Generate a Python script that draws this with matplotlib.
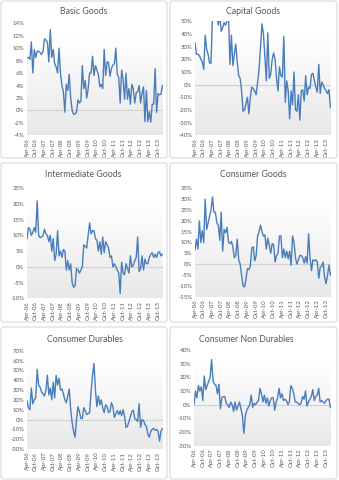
import numpy as np
import matplotlib
matplotlib.use("Agg")
import matplotlib.pyplot as plt
from matplotlib.patches import FancyBboxPatch

# ---------------------------------------------
# datos (% variación anual, Apr-06 .. Jan-14)
# ---------------------------------------------
tick_labels = ["Apr-06", "Oct-06", "Apr-07", "Oct-07", "Apr-08", "Oct-08", "Apr-09", "Oct-09",
               "Apr-10", "Oct-10", "Apr-11", "Oct-11", "Apr-12", "Oct-12", "Apr-13", "Oct-13"]

basic_goods = [8.5, 8.5, 8.2, 11, 6, 9.8,
               8.5, 9.5, 9.5, 9.3, 9.0, 9.5,
               11.5, 11.3, 11, 7.8, 13, 8.5,
               9.8, 7.5, 7, 6, 10, 6,
               4, 3, -0.3, 4.2, 3.2, 5.8,
               2, 0, -0.6, -0.6, -0.3, 1.7,
               1.2, 1.5, 7.2, 3.5, 4.8, 2,
               3.5, 6, 6, 8.7, 5.6, 7.2,
               6.5, 5.8, 3.8, 4.2, 3.5, 9.8,
               5.6, 7.8, 7.7, 5.5, 6.8, 7.3,
               7.5, 10, 5.8, 5.3, 1.2, 6.5,
               5, 1.8, 6, 1.8, 3.5, 1,
               4.2, 3.5, 1.2, 2.8, 3, 4,
               1.2, 2.8, 3.8, -1.8, 3.2, -1.8,
               -0.2, -1.9, 1, 1, 6.7, -0.3,
               2.7, 2.5, 2.6, 4]

capital_goods = [33, 24, 24, 23, 20, 18,
                 12, 39, 28, 24, 17, 17,
                 55, 55, 55, 55, 47, 55,
                 42, 45, 49, 47, 50, 55,
                 16, 39, 15, 24, 32, 18,
                 7, 5, -5, -21, -20, -15,
                 -10, -23, -10, -2, -3, -5,
                 -8, 2, 12, 30, 48, 40,
                 22, 3, 41, 5, 8, 20,
                 25, 20, 5, -5, 14, 7,
                 6, 38, -14, 3, -5, -27,
                 -5, -16, 10, -20, -21, -8,
                 -28, -5, -4, -13, 7, -8,
                 -2, -3, 8, 9, 3, -2,
                 -6, 16, -7, 2, 0, -3,
                 -5, -7, -4, -18]

intermediate_goods = [9, 12.5, 12, 10, 11, 12.5,
                      11, 21, 10, 9.3, 9.5, 10,
                      12, 10.5, 10, 8, 10, 5,
                      9, 2, 4, 11.5, 3.5, 5,
                      3, 5.5, 5, -1, 2, -1,
                      1, -5, -6.5, -6, -0.5, -1,
                      -2, -1, 0, 7, 6.5, 6,
                      10, 14, 10.5, 11.5, 11.5, 9,
                      8.5, 5, 8, 4, 9.5, 4.5,
                      8, 7, 6, 3, 3.5, 0,
                      1, 0, -1, -2, -8.5, 1.5,
                      -2, -2.5, 1, -0.5, -2, 3.5,
                      0, 0.5, 2, 3, 9.5, -1.5,
                      -0.5, 3.5, -1, 2.5, 1, 1,
                      3, 4, 4.5, 3, 4, 3,
                      4.5, 4.8, 3.5, 4]

consumer_goods = [6.5, 11.5, 7, 20, 10, 15.5,
                  10, 30, 16, 19, 22, 25,
                  31, 24, 24, 19, 18, 11,
                  24, 6, 16, 14.5, 17, 10,
                  9.5, 10.5, 8, 3, 4, 11.5,
                  2, 0, -5, -10, -10.5, -7,
                  -2, -2.5, -1, 7.5, 8, 1.5,
                  4, 13, 15, 18, 15, 13,
                  13.5, 7, 12, 9, 5, 9.5,
                  9, 1, 4, 5, 13, 13,
                  3, 7, 3, 6, 2.5, 6,
                  -0.5, 13, 10, 3, 0, 2,
                  4, 4, 3, 0.5, 3.5, 0.5,
                  14, 3, -3, 2, 1.5, 2,
                  1, -6.5, -1.5, -1, 1, -6,
                  -9, -5, -0.5, -5]

consumer_durables = [19, 12, 10, 32, 16, 20,
                     22, 51, 35, 33, 28, 26,
                     24, 30, 45, 25, 32, 20,
                     38, 22, 45, 35, 42, 30,
                     31, 26, 20, 17, 24, 31,
                     10, -3, -12, -18, 0, 13,
                     8, 1, 1, 12, 9, 5,
                     6, 7, 28, 45, 57, 30,
                     13, 24, 15, 20, 12, 7,
                     15, 13, 7, 8, 17, 13,
                     2, 6, 9, 5, 9, 4,
                     10, 3, -8, -7, -2, 3,
                     8, 9.5, 1, 0, -2, 16,
                     -8, 0, -1, -5, -7, -15,
                     -18, -12, -10, -9, -11, -10,
                     -12, -22, -12, -9.5]

consumer_non_durables = [0, 10, 5, 14, 10, 13,
                         3, 21, 11, 14, 17, 20,
                         33, 17, 15, 14, 8, 15,
                         -3, 5, 6, 6, 1, 0,
                         -2, 2, 0, -5, 2, -4,
                         -1, 2, -3, -8, -21, -8,
                         -4, -2, 0, 7, -2, 1,
                         0, 2, 3, 12, 8, 2,
                         7, 1, 5, -1, 3, 5,
                         5, -4, 2, 5, 12, 5,
                         8, 3, 4, 3, 0, 2,
                         14, 12, 8, 2, 2, 1,
                         0, 1, 6, 4, 10, -1,
                         2, 4, 6, 11, 3, 6,
                         7, 12, 2, 3, 2, 1,
                         3, 4, 4, -2]

# ---------------------------------------------
# figura
# ---------------------------------------------
W, H = 339, 480
fig = plt.figure(figsize=(W / 100, H / 100), dpi=100)
fig.patch.set_facecolor("white")

LINE = "#4a7ebb"
TXT = "#595959"
plt.rcParams["font.family"] = ["Lato", "DejaVu Sans"]

# recuadros de cada gráfico
for (l, t, r, b) in [(1, 1, 167, 158), (170, 1, 337, 158),
                     (1, 163, 167, 322), (170, 163, 337, 322),
                     (1, 327, 167, 479), (170, 327, 337, 479)]:
    fig.patches.append(FancyBboxPatch((l / W, 1 - b / H), (r - l) / W, (b - t) / H,
                                      boxstyle="round,pad=0,rounding_size=0.006",
                                      transform=fig.transFigure, fc="none",
                                      ec="#d9d9d9", lw=0.8))

# degradado del área de trazado
grad = np.zeros((100, 2, 4))
v = np.clip((np.linspace(0, 1, 100) - 0.12) / 0.88, 0, 1)
grad[:, :, :3] = 0.88
grad[:, :, 3] = (v * 0.75)[:, None]


def panel(serie, titulo, ylim, step, box, title_xy):
    l, t, r, b = box
    ax = fig.add_axes([l / W, 1 - b / H, (r - l) / W, (b - t) / H])
    x = np.arange(len(serie))
    ax.imshow(grad, extent=[0, 1, 0, 1], transform=ax.transAxes,
              aspect="auto", zorder=0)
    ax.axhline(0, color="#d0d0d0", lw=0.8, zorder=1)
    ax.plot(x, serie, color=LINE, lw=1.0, zorder=3, solid_joinstyle="round",
            clip_on=True)
    ax.set_xlim(0, len(serie) - 0.6)
    ax.set_ylim(*ylim)
    ax.set_yticks(np.arange(ylim[0], ylim[1] + 0.1, step))
    ax.set_yticklabels([f"{int(v)}%" for v in ax.get_yticks()])
    ax.set_xticks(np.arange(0, len(serie), 6)[:len(tick_labels)])
    ax.set_xticklabels(tick_labels, rotation=90)
    ax.tick_params(length=0, labelsize=4.3, colors=TXT, pad=2)
    for s in ax.spines.values():
        s.set_visible(False)
    ax.set_facecolor("none")
    fig.text(title_xy[0] / W, 1 - title_xy[1] / H, titulo, ha="center",
             va="center", fontsize=6.3, color=TXT)


panel(basic_goods, "Basic Goods", (-4, 14), 2, (27, 23.3, 163, 135.3), (84, 11))
panel(capital_goods, "Capital Goods", (-40, 50), 10, (195, 21.3, 331, 135.3), (253, 11))
panel(intermediate_goods, "Intermediate Goods", (-10, 25), 5, (27, 188.3, 163, 298.3), (83, 175))
panel(consumer_goods, "Consumer Goods", (-15, 35), 5, (195, 188.3, 331, 296.7), (253, 175))
panel(consumer_durables, "Consumer Durables", (-30, 70), 10, (27, 350.7, 163, 449), (85, 339))
panel(consumer_non_durables, "Consumer Non Durables", (-30, 40), 10, (194, 350, 331, 445.7), (246, 340))

fig.savefig("out.png", dpi=100)
